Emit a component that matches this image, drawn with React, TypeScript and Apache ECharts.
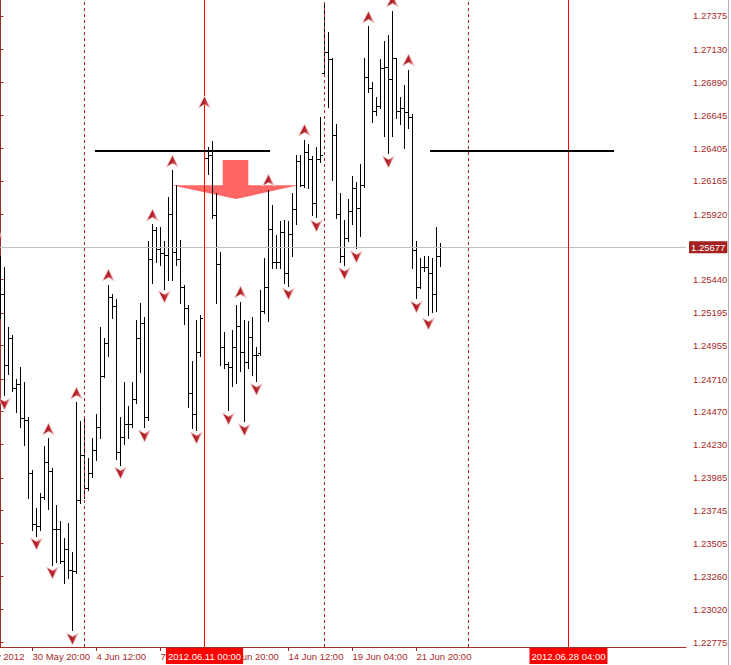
import React, { useEffect, useRef } from 'react';
import * as echarts from 'echarts';

// ---- data (H4 bars) ----
const FIRST_BAR = -1; // bar number of the first array entry (partly off-screen)

const opens = [
  1.25437, 1.25510, 1.25327, 1.24806, 1.25004, 1.24637, 1.24673, 1.24417, 1.24409, 1.24020,
  1.23639, 1.23630, 1.23844, 1.24094, 1.24028, 1.23609, 1.23609, 1.23374, 1.23455, 1.23308,
  1.23300, 1.23815, 1.24152, 1.23910, 1.24020, 1.24182, 1.24351, 1.24732, 1.24974, 1.25305,
  1.25239, 1.24174, 1.24284, 1.24373, 1.24373, 1.24563, 1.25011, 1.25121, 1.24424, 1.25584,
  1.25797, 1.25657, 1.25628, 1.25620, 1.25921, 1.25642, 1.25584, 1.25385, 1.25231, 1.24607,
  1.24453, 1.24901, 1.26384, 1.26325, 1.26347, 1.25907, 1.25554, 1.24945, 1.24813, 1.24798,
  1.24945, 1.25099, 1.24908, 1.24828, 1.25018, 1.24886, 1.24900, 1.25209, 1.25385, 1.25811,
  1.25562, 1.25562, 1.25789, 1.25488, 1.25774, 1.25951, 1.26303, 1.26134, 1.26376, 1.26318,
  1.25995, 1.26318, 1.26956, 1.27110, 1.27052, 1.26494, 1.25914, 1.25606, 1.25738, 1.25943,
  1.26112, 1.25965, 1.26134, 1.26920, 1.26846, 1.26677, 1.26707, 1.26986, 1.27000, 1.26905,
  1.27059, 1.26677, 1.26699, 1.26663, 1.26626, 1.25650, 1.25385, 1.25532, 1.25525, 1.25481,
  1.25327, 1.25606,
];
const highs = [
  1.25716, 1.25606, 1.25525, 1.25085, 1.25033, 1.24710, 1.24791, 1.24681, 1.24424, 1.24042,
  1.23763, 1.23873, 1.24218, 1.24270, 1.24050, 1.23785, 1.23661, 1.23536, 1.23646, 1.23433,
  1.24534, 1.24395, 1.24417, 1.24123, 1.24277, 1.24446, 1.25085, 1.25004, 1.25400, 1.25327,
  1.25290, 1.24431, 1.24681, 1.24505, 1.24681, 1.25143, 1.25261, 1.25158, 1.25716, 1.25841,
  1.25819, 1.25819, 1.25716, 1.26046, 1.26237, 1.26134, 1.25730, 1.25393, 1.25253, 1.24835,
  1.25143, 1.25173, 1.26670, 1.26413, 1.26457, 1.26075, 1.25642, 1.25048, 1.24828, 1.25063,
  1.25250, 1.25275, 1.25143, 1.25129, 1.25158, 1.24945, 1.25363, 1.25591, 1.26097, 1.25987,
  1.25767, 1.25863, 1.25877, 1.25863, 1.26075, 1.26347, 1.26347, 1.26464, 1.26428, 1.26340,
  1.26413, 1.26633, 1.27477, 1.27250, 1.27060, 1.26575, 1.26075, 1.25877, 1.26031, 1.26193,
  1.26156, 1.26288, 1.27066, 1.27294, 1.26890, 1.26773, 1.27052, 1.27184, 1.27228, 1.27411,
  1.27066, 1.26773, 1.26861, 1.26978, 1.26648, 1.25723, 1.25598, 1.25606, 1.25606, 1.25598,
  1.25819, 1.25708,
];
const lows = [
  1.25290, 1.25158, 1.24593, 1.24754, 1.24629, 1.24468, 1.24365, 1.24233, 1.23844, 1.23602,
  1.23565, 1.23609, 1.23830, 1.23763, 1.23352, 1.23367, 1.23360, 1.23220, 1.23250, 1.22868,
  1.23290, 1.23800, 1.23844, 1.23900, 1.23991, 1.24116, 1.24284, 1.24725, 1.24886, 1.25158,
  1.24130, 1.24086, 1.24240, 1.24284, 1.24360, 1.24540, 1.24762, 1.24358, 1.24410, 1.25415,
  1.25569, 1.25547, 1.25378, 1.25437, 1.25437, 1.25547, 1.25275, 1.25121, 1.24505, 1.24351,
  1.24343, 1.24886, 1.26156, 1.26222, 1.25899, 1.25268, 1.24820, 1.24798, 1.24483, 1.24666,
  1.24681, 1.24769, 1.24402, 1.24798, 1.24740, 1.24700, 1.24890, 1.25195, 1.25136, 1.25525,
  1.25525, 1.25532, 1.25415, 1.25400, 1.25620, 1.25855, 1.26127, 1.26120, 1.26119, 1.25914,
  1.25900, 1.26310, 1.26942, 1.26707, 1.26171, 1.25892, 1.25569, 1.25550, 1.25730, 1.25855,
  1.25672, 1.25767, 1.26120, 1.26817, 1.26597, 1.26648, 1.26700, 1.26501, 1.26369, 1.26494,
  1.26626, 1.26589, 1.26413, 1.26553, 1.25525, 1.25305, 1.25380, 1.25510, 1.25180, 1.25202,
  1.25210, 1.25540,
];
const closes = [
  1.25606, 1.25327, 1.24806, 1.25004, 1.24644, 1.24673, 1.24417, 1.24409, 1.24020, 1.23639,
  1.23630, 1.23844, 1.24094, 1.24028, 1.23609, 1.23609, 1.23374, 1.23455, 1.23308, 1.23300,
  1.23815, 1.24152, 1.23910, 1.24020, 1.24182, 1.24351, 1.24732, 1.24974, 1.25305, 1.25239,
  1.24174, 1.24284, 1.24373, 1.24373, 1.24563, 1.25011, 1.25121, 1.24424, 1.25584, 1.25797,
  1.25657, 1.25628, 1.25620, 1.25921, 1.25642, 1.25584, 1.25385, 1.25231, 1.24607, 1.24453,
  1.24901, 1.25151, 1.26325, 1.26347, 1.25907, 1.25554, 1.24945, 1.24813, 1.24798, 1.24945,
  1.25099, 1.24908, 1.24828, 1.25018, 1.24886, 1.24879, 1.25209, 1.25385, 1.25811, 1.25562,
  1.25562, 1.25789, 1.25488, 1.25774, 1.25951, 1.26303, 1.26134, 1.26376, 1.26318, 1.25995,
  1.26318, 1.26354, 1.27110, 1.27052, 1.26494, 1.25914, 1.25606, 1.25738, 1.25943, 1.26112,
  1.25965, 1.26134, 1.26920, 1.26846, 1.26677, 1.26707, 1.26986, 1.27000, 1.26905, 1.27059,
  1.26677, 1.26699, 1.26663, 1.26626, 1.25650, 1.25385, 1.25532, 1.25525, 1.25481, 1.25327,
  1.25606, 1.25677,
];

// fractal bars (bar numbers)
const fractalUp = [-1, 12, 19, 27, 38, 43, 51, 60, 67, 76, 92, 98, 102];
const fractalDown = [1, 9, 13, 18, 30, 36, 41, 49, 57, 61, 64, 72, 79, 86, 89, 97, 104, 107];

// time axis
const timeTickBars = [-8, 8, 24, 40, 56, 72, 88, 104];
const timeTickLabels = [
  '28 May 2012', '30 May 20:00', '4 Jun 12:00', '7 Jun 04:00',
  '11 Jun 20:00', '14 Jun 12:00', '19 Jun 04:00', '21 Jun 20:00',
];

// price axis
const priceTicks = [
  1.27375, 1.2713, 1.2689, 1.26645, 1.26405, 1.26165, 1.2592, 1.2544, 1.25195, 1.24955,
  1.2471, 1.2447, 1.2423, 1.23985, 1.23745, 1.23505, 1.2326, 1.2302, 1.22775,
];

// objects
const separatorBars = [21, 81, 117];
const markedBars = [51, 142];
const markedLabels = ['2012.06.11 00:00', '2012.06.28 04:00'];
const levelPrice = 1.26384;
const levelFrom = [23.6, 107.4];
const levelTo = [67.4, 153.4];
const bidPrice = 1.25677;
const arrowBars = [42.8, 55.55, 55.55, 61.95, 61.95, 74.45, 58.9];
const arrowPrices = [1.26132, 1.26132, 1.26318, 1.26318, 1.26132, 1.26132, 1.26031];

const X_MIN = -0.125;
const X_MAX = 171.375;
const Y_MIN = 1.22743;
const Y_MAX = 1.27492;

const AXIS_COLOR = '#A52A2A';
const FONT = 'Liberation Sans';

export default function App() {
  const ref = useRef<HTMLDivElement>(null);

  useEffect(() => {
    const chart = echarts.init(ref.current!, null, { renderer: 'svg', width: 731, height: 665 });

    const bars = opens.map((o, k) => [k + FIRST_BAR, o, highs[k], lows[k], closes[k]]);
    const upPts = fractalUp.map((b) => [b, highs[b - FIRST_BAR]]);
    const dnPts = fractalDown.map((b) => [b, lows[b - FIRST_BAR]]);

    const fractalFill = new echarts.graphic.LinearGradient(0, 0, 1, 0, [
      { offset: 0, color: '#A8161C' },
      { offset: 0.55, color: '#B8252B' },
      { offset: 1, color: '#EFA5A5' },
    ]);

    const option: any = {
      animation: false,
      backgroundColor: '#ffffff',
      grid: { left: 0, right: 45, top: 0, bottom: 18, containLabel: false, outerBoundsMode: 'none' },
      xAxis: {
        type: 'value',
        min: X_MIN,
        max: X_MAX,
        splitLine: { show: false },
        axisLine: { show: true, lineStyle: { color: AXIS_COLOR, width: 1 } },
        axisTick: { show: true, length: 4, lineStyle: { color: AXIS_COLOR }, customValues: timeTickBars.slice(1) },
        axisLabel: {
          customValues: timeTickBars.slice(1),
          formatter: (v: number) => {
            const k = timeTickBars.indexOf(Math.round(v));
            return k >= 0 ? timeTickLabels[k] : '';
          },
          align: 'left',
          padding: [0, 0, 0, 0],
          margin: 4,
          color: AXIS_COLOR,
          fontFamily: FONT,
          fontSize: 9.5,
        },
      },
      yAxis: {
        type: 'value',
        position: 'right',
        min: Y_MIN,
        max: Y_MAX,
        splitLine: { show: false },
        axisLine: { show: true, lineStyle: { color: AXIS_COLOR, width: 1 } },
        axisTick: { show: true, length: 3, lineStyle: { color: AXIS_COLOR }, customValues: priceTicks },
        axisLabel: {
          customValues: priceTicks,
          formatter: (v: number) => v.toFixed(5),
          margin: 7,
          color: AXIS_COLOR,
          fontFamily: FONT,
          fontSize: 9.5,
        },
      },
      series: [
        {
          type: 'custom',
          name: 'arrow',
          z: 1,
          silent: true,
          clip: false,
          data: [[arrowBars[0], arrowPrices[0]]],
          renderItem: (_p: any, api: any) => {
            const pts = arrowBars.map((b, k) => api.coord([b, arrowPrices[k]]));
            return { type: 'polygon', shape: { points: pts }, style: { fill: '#FF6666' } };
          },
        },
        {
          type: 'line',
          name: 'separators',
          z: 2,
          data: [],
          clip: false,
          markLine: {
            silent: true,
            symbol: ['none', 'none'],
            label: { show: false },
            lineStyle: { color: '#B22222', width: 1, type: [3, 3] },
            data: separatorBars.map((b) => [{ coord: [b, Y_MIN] }, { coord: [b, Y_MAX] }]),
          },
        },
        {
          type: 'line',
          name: 'bid',
          z: 2,
          data: [],
          clip: false,
          markLine: {
            silent: true,
            symbol: ['none', 'none'],
            lineStyle: { color: '#C0C0C0', width: 1, type: 'solid' },
            label: {
              show: true,
              position: 'end',
              distance: 3,
              formatter: () => bidPrice.toFixed(5),
              color: '#ffffff',
              backgroundColor: '#A52222',
              padding: [1, 2, 1, 2],
              fontFamily: FONT,
              fontSize: 9.5,
            },
            data: [[{ coord: [X_MIN, bidPrice] }, { coord: [X_MAX, bidPrice] }]],
          },
        },
        {
          type: 'line',
          name: 'marked',
          z: 3,
          data: [],
          clip: false,
          markLine: {
            silent: true,
            symbol: ['none', 'none'],
            lineStyle: { color: '#FF0000', width: 1, type: 'solid' },
            label: {
              show: true,
              position: 'start',
              distance: 1,
              formatter: (p: any) => markedLabels[p.dataIndex],
              color: '#ffffff',
              backgroundColor: '#FF0000',
              padding: [3, 2, 3, 2],
              fontFamily: FONT,
              fontSize: 9.5,
            },
            data: markedBars.map((b) => [{ coord: [b, Y_MIN] }, { coord: [b, Y_MAX] }]),
          },
        },
        {
          type: 'line',
          name: 'levels',
          z: 3,
          data: [],
          clip: false,
          markLine: {
            silent: true,
            symbol: ['none', 'none'],
            label: { show: false },
            lineStyle: { color: '#000000', width: 2, type: 'solid' },
            data: levelFrom.map((a, k) => [{ coord: [a, levelPrice] }, { coord: [levelTo[k], levelPrice] }]),
          },
        },
        {
          type: 'custom',
          name: 'bars',
          z: 4,
          silent: true,
          clip: true,
          data: bars,
          encode: { x: 0, y: [1, 2, 3, 4] },
          renderItem: (_p: any, api: any) => {
            const i = api.value(0);
            const ph = api.coord([i, api.value(2)]);
            const pl = api.coord([i, api.value(3)]);
            const po = api.coord([i, api.value(1)]);
            const pc = api.coord([i, api.value(4)]);
            const x = Math.floor(ph[0]) + 0.5;
            const yo = Math.floor(po[1]) + 0.5;
            const yc = Math.floor(pc[1]) + 0.5;
            const st = { stroke: '#000000', lineWidth: 1 };
            return {
              type: 'group',
              children: [
                { type: 'line', shape: { x1: x, y1: Math.floor(ph[1]), x2: x, y2: Math.ceil(pl[1]) + 1 }, style: st },
                { type: 'line', shape: { x1: x - 2.5, y1: yo, x2: x - 0.5, y2: yo }, style: st },
                { type: 'line', shape: { x1: x + 0.5, y1: yc, x2: x + 2.5, y2: yc }, style: st },
              ],
            };
          },
        },
        {
          type: 'scatter',
          name: 'fractalUp',
          z: 5,
          silent: true,
          clip: false,
          data: upPts,
          symbol: 'path://M6,0L12,12L6,8.5L0,12Z',
          symbolSize: [12, 12],
          symbolOffset: [0, -10],
          itemStyle: { color: fractalFill, borderColor: '#F6D6D6', borderWidth: 0.8, opacity: 1 },
        },
        {
          type: 'scatter',
          name: 'fractalDown',
          z: 5,
          silent: true,
          clip: false,
          data: dnPts,
          symbol: 'path://M0,0L6,3.5L12,0L6,12Z',
          symbolSize: [12, 12],
          symbolOffset: [0, 9],
          itemStyle: { color: fractalFill, borderColor: '#F6D6D6', borderWidth: 0.8, opacity: 1 },
        },
      ],
    };

    chart.setOption(option);

    const firstX = chart.convertToPixel({ xAxisIndex: 0 }, timeTickBars[0]) as number;
    const axisY = chart.convertToPixel({ yAxisIndex: 0 }, Y_MIN) as number;
    chart.setOption({
      graphic: [
        {
          type: 'text',
          x: firstX + 1,
          y: axisY + 4,
          silent: true,
          style: { text: timeTickLabels[0], fill: AXIS_COLOR, font: `9.5px "${FONT}"`, textVerticalAlign: 'top' },
        },
        {
          type: 'rect',
          silent: true,
          shape: { x: 728, y: 0, width: 1, height: 665 },
          style: { fill: '#B4B4B4' },
        },
      ],
    });

    return () => chart.dispose();
  }, []);

  return (
    <div
      ref={ref}
      style={{ position: 'fixed', left: 0, top: 0, width: 731, height: 665, background: '#ffffff' }}
    />
  );
}
